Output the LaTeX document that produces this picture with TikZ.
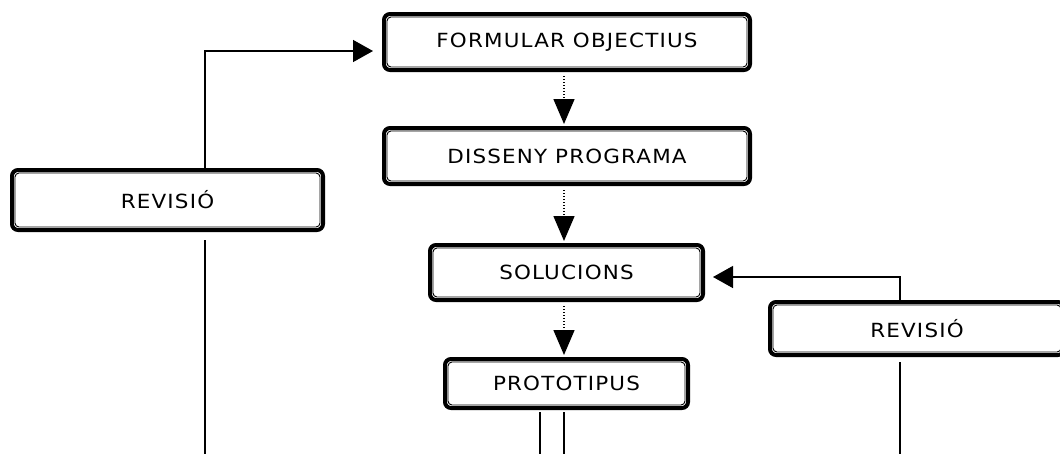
\documentclass[tikz,border=0pt]{standalone}
\usepackage{fontspec}
\setmainfont{DejaVu Sans}[FakeStretch=1.1,LetterSpace=6]
\usetikzlibrary{arrows.meta,calc}
\tikzset{
  box/.style={draw, line width=4pt, rounded corners=6pt, fill=white,
    font=\fontsize{19.5}{22}\selectfont, inner sep=0pt},
  innerline/.style={line width=0.9pt, rounded corners=4pt},
  conn/.style={line width=1.4pt},
  tip/.style={-{Triangle[length=20pt,width=22pt]}},
  dotarrow/.style={line width=1.4pt, dash pattern=on 1.4pt off 1.6pt,
    -{Triangle[length=25pt,width=21pt]}}
}
\begin{document}
\begin{tikzpicture}[x=1pt,y=-1pt]
\useasboundingbox (0,0) rectangle (1060,453);
\clip (0,0) rectangle (1060,453);
\fill[white] (0,0) rectangle (1060,453);

\node[box, minimum width=366pt, minimum height=56pt] (f1) at (567,42) {FORMULAR OBJECTIUS};
\node[box, minimum width=366pt, minimum height=56pt] (f2) at (567,156) {DISSENY PROGRAMA};
\node[box, minimum width=273pt, minimum height=55pt] (sol) at (566.5,272.5) {SOLUCIONS};
\node[box, minimum width=243pt, minimum height=49pt] (pro) at (566.5,383.5) {PROTOTIPUS};
\node[box, minimum width=311pt, minimum height=60pt] (revL) at (167.5,200) {REVISIÓ};
\node[box, minimum width=294pt, minimum height=53pt] (revR) at (917,328.5) {REVISIÓ};

\foreach \n in {f1,f2,sol,pro,revL,revR}
  \draw[innerline] ([shift={(5pt,-5pt)}]\n.north west) rectangle ([shift={(-5pt,5pt)}]\n.south east);

\coordinate (cl) at (205,51);
\coordinate (cr) at (900,277);
\coordinate (bl) at (205,460);
\coordinate (br) at (900,460);
\coordinate (bp1) at (540,460);
\coordinate (bp2) at (564,460);
\coordinate (ax) at (564,0);

% left feedback
\draw[conn, tip] ([yshift=-2pt]revL.north -| cl) |- ([xshift=-9pt]f1.west |- cl);
\draw[conn] ([yshift=-8pt]revL.south -| cl) -- (bl);

% right feedback
\draw[conn, tip] ([yshift=-2pt]revR.north -| cr) |- ([xshift=8pt]sol.east |- cr);
\draw[conn] ([yshift=-5pt]revR.south -| cr) -- (br);

% main flow (dotted)
\draw[dotarrow] ([yshift=-4pt]f1.south -| ax) -- ([yshift=2pt]f2.north -| ax);
\draw[dotarrow] ([yshift=-4pt]f2.south -| ax) -- ([yshift=2pt]sol.north -| ax);
\draw[dotarrow] ([yshift=-4pt]sol.south -| ax) -- ([yshift=2pt]pro.north -| ax);

% lines under prototipus
\draw[conn] ([yshift=-2pt]pro.south -| bp1) -- (bp1);
\draw[conn] ([yshift=-2pt]pro.south -| bp2) -- (bp2);
\end{tikzpicture}
\end{document}
